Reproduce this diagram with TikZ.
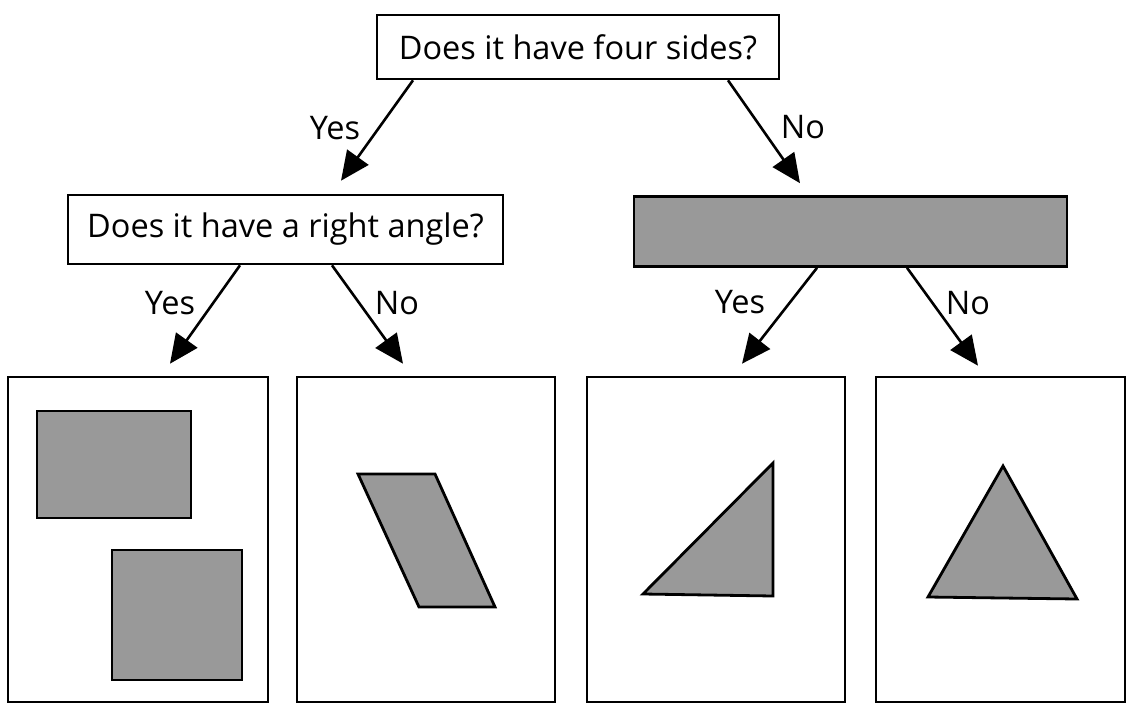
\documentclass[tikz,border=0pt]{standalone}
\usepackage{fontspec}
\setmainfont{Open Sans}
\usetikzlibrary{arrows.meta}
\definecolor{shapegray}{RGB}{153,153,153}
\newcommand{\qfont}{\fontsize{32.5}{38}\selectfont}

\begin{document}
\begin{tikzpicture}[x=1pt,y=-1pt,
  qbox/.style={draw=black, line width=2.6pt, fill=white, inner sep=0pt, font=\qfont},
  hidebox/.style={draw=black, line width=2.6pt, fill=shapegray, inner sep=0pt},
  cardbox/.style={draw=black, line width=2.6pt, inner sep=0pt, minimum width=#1, minimum height=325pt},
  shp/.style={draw=black, line width=2.8pt, fill=shapegray, line join=miter},
  arr/.style={line width=2.6pt, -{Triangle[length=29pt, width=26pt]}},
  lbl/.style={font=\qfont, inner sep=0pt}]
\useasboundingbox (0,0) rectangle (1131,704);
% questions
\node[qbox, minimum width=402pt, minimum height=64pt] (q1) at (578,47) {Does it have four sides?};
\node[qbox, minimum width=435pt, minimum height=69pt] (q2) at (285.5,229.5) {Does it have a right angle?};
\node[hidebox, minimum width=433pt, minimum height=70pt] (q3) at (850.5,231.5) {};
% answer cards
\node[cardbox=260pt] (b1) at (138,539.5) {};
\node[cardbox=258pt] (b2) at (426,539.5) {};
\node[cardbox=258pt] (b3) at (716,539.5) {};
\node[cardbox=249pt] (b4) at (1000.5,539.5) {};
% arrows
\draw[arr] ([xshift=-165pt]q1.south) -- ([xshift=55.5pt,yshift=13pt]q2.north);
\draw[arr] ([xshift=150pt]q1.south) -- ([xshift=-50.5pt,yshift=12pt]q3.north);
\draw[arr] ([xshift=-45.5pt]q2.south) -- ([xshift=32pt,yshift=12pt]b1.north);
\draw[arr] ([xshift=46.5pt]q2.south) -- ([xshift=-23pt,yshift=12pt]b2.north);
\draw[arr] ([xshift=-33.5pt]q3.south) -- ([xshift=26pt,yshift=12pt]b3.north);
\draw[arr] ([xshift=56.5pt]q3.south) -- ([xshift=-22.5pt,yshift=10pt]b4.north);
% labels
\node[lbl] (y1) at (335,128) {Yes};
\node[lbl] (n1) at (803,127) {No};
\node[lbl] (y2) at (170,303) {Yes};
\node[lbl] (n2) at (397,303) {No};
\node[lbl] (y3) at (740,302) {Yes};
\node[lbl] (n3) at (968,303) {No};
% shapes
\draw[shp] (37,411) rectangle (191,518);
\draw[shp] (112,550) rectangle (242,680);
\draw[shp] (358,474) -- (435,474) -- (495,607) -- (419,607) -- cycle;
\draw[shp] (773,463) -- (773,596) -- (643,594) -- cycle;
\draw[shp] (1003,466) -- (1077,599) -- (928,597) -- cycle;
\end{tikzpicture}
\end{document}
